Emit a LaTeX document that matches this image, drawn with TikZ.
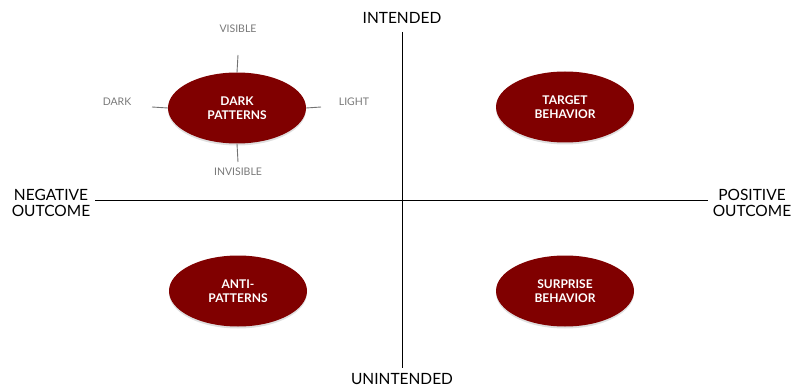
\documentclass[tikz,border=0pt]{standalone}
\usepackage{fontspec}
\setmainfont{Lato}
\usetikzlibrary{shapes.geometric,shadows}
\definecolor{maroon}{RGB}{128,0,0}
\definecolor{tickgray}{RGB}{115,115,115}
\definecolor{labelgray}{RGB}{120,120,120}
\begin{document}
\begin{tikzpicture}[x=1pt,y=-1pt,
  blob/.style={ellipse,fill=maroon,minimum width=138pt,minimum height=71pt,
    inner sep=0pt,text=white,font=\fontsize{12}{14}\selectfont\bfseries,align=center,
    drop shadow={shadow xshift=0pt,shadow yshift=-2pt,opacity=0.25}},
  axislabel/.style={font=\fontsize{15.5}{16}\selectfont,text=black,align=center,inner sep=0pt},
  smalllabel/.style={font=\fontsize{10.5}{12}\selectfont,text=labelgray,inner sep=0pt},
  axisline/.style={draw=black,line width=0.8pt},
  tick/.style={draw=tickgray,line width=0.9pt}]
\useasboundingbox (0,0) rectangle (792,390);

% quadrant axes
\coordinate (top) at (402,32);
\coordinate (bottom) at (402,368);
\coordinate (left) at (95,200);
\coordinate (right) at (708,200);
\draw[axisline] (top) -- (bottom);
\draw[axisline] (left) -- (right);

\node[axislabel] (intended) at (402,18) {INTENDED};
\node[axislabel] (unintended) at (402,379) {UNINTENDED};
\node[axislabel] (neg) at (51,203) {NEGATIVE\\OUTCOME};
\node[axislabel] (pos) at (752,203) {POSITIVE\\OUTCOME};

% quadrant ellipses
\node[blob] (dark) at (237,108) {DARK\\PATTERNS};
\node[blob] (target) at (565,107) {TARGET\\BEHAVIOR};
\node[blob] (anti) at (238,291) {ANTI-\\PATTERNS};
\node[blob] (surprise) at (565,291) {SURPRISE\\BEHAVIOR};

% small compass around dark patterns
\coordinate (tN) at (238,55);
\coordinate (tS) at (238,162);
\coordinate (tW) at (152,107);
\coordinate (tE) at (321,107);
\draw[tick] (tN) -- (dark.north);
\draw[tick] (dark.south) -- (tS);
\draw[tick] (tW) -- (dark.west);
\draw[tick] (dark.east) -- (tE);

\node[smalllabel] (visible) at (238,29) {VISIBLE};
\node[smalllabel] (invisible) at (238,172) {INVISIBLE};
\node[smalllabel] (darklbl) at (117,102) {DARK};
\node[smalllabel] (lightlbl) at (354,102) {LIGHT};
\end{tikzpicture}
\end{document}
